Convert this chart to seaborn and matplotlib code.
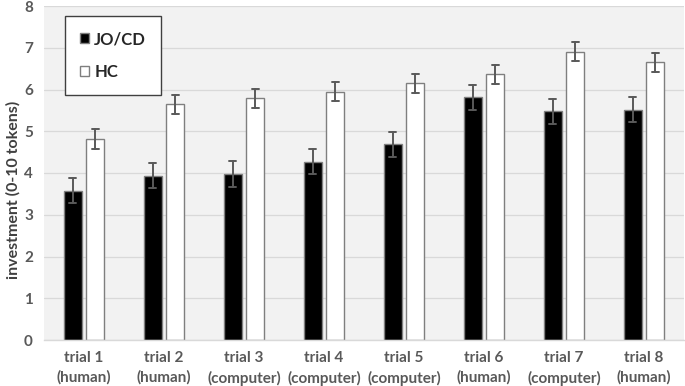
import numpy as np
import pandas as pd
import matplotlib
matplotlib.use("Agg")
import matplotlib.pyplot as plt
import seaborn as sns

trials = ["trial 1\n(human)", "trial 2\n(human)", "trial 3\n(computer)", "trial 4\n(computer)",
          "trial 5\n(computer)", "trial 6\n(human)", "trial 7\n(computer)", "trial 8\n(human)"]
groups = ["JO/CD", "HC"]
jo_mean = [3.57, 3.94, 3.98, 4.27, 4.69, 5.81, 5.48, 5.52]
jo_se = [0.30, 0.31, 0.31, 0.30, 0.30, 0.30, 0.30, 0.30]
hc_mean = [4.81, 5.65, 5.79, 5.95, 6.15, 6.36, 6.91, 6.65]
hc_se = [0.24, 0.23, 0.23, 0.23, 0.23, 0.23, 0.23, 0.23]
y_ticks = [0, 1, 2, 3, 4, 5, 6, 7, 8]

rows = []
for g, means, ses in [("JO/CD", jo_mean, jo_se), ("HC", hc_mean, hc_se)]:
    for t, m, s in zip(trials, means, ses):
        rows.append({"trial": t, "group": g, "value": m - s})
        rows.append({"trial": t, "group": g, "value": m + s})
df = pd.DataFrame(rows)

sns.set_style("white")
plt.rcParams["font.family"] = ["Lato", "DejaVu Sans"]

fig = plt.figure(figsize=(6.85, 3.86), dpi=100)
ax = fig.add_axes([44 / 685, 46 / 386, 640 / 685, 334 / 386])
ax.set_facecolor("#f2f2f2")

sns.barplot(data=df, x="trial", y="value", hue="group", hue_order=groups, order=trials,
            palette={"JO/CD": "black", "HC": "white"}, estimator="mean",
            errorbar=lambda v: (v.min(), v.max()), capsize=0.18,
            err_kws={"color": "#595959", "linewidth": 1.4},
            width=0.566, gap=0.205, edgecolor="#7f7f7f", linewidth=1.0, ax=ax)

ax.set_ylim(0, 8)
ax.set_xlim(-0.5, 7.5)
ax.set_yticks(y_ticks)
ax.yaxis.grid(True, color="#d9d9d9", linewidth=0.9)
ax.set_axisbelow(True)
for s in ["left", "right", "top"]:
    ax.spines[s].set_visible(False)
ax.spines["bottom"].set_color("#d9d9d9")
ax.spines["bottom"].set_linewidth(1.0)

ax.tick_params(axis="both", length=0, labelsize=11, labelcolor="#595959")
ax.tick_params(axis="y", pad=8)
ax.tick_params(axis="x", pad=8)
for lab in ax.get_xticklabels() + ax.get_yticklabels():
    lab.set_fontweight("bold")
for lab in ax.get_xticklabels():
    lab.set_linespacing(1.45)

ax.set_xlabel("")
ax.set_ylabel("investment (0-10 tokens)", fontsize=11.5, fontweight="bold", color="#404040")
ax.yaxis.set_label_coords(-0.036, 0.449)

handles, labels = ax.get_legend_handles_labels()
leg = ax.legend(handles, labels, loc="upper left", bbox_to_anchor=(0.0328, 0.970),
                borderaxespad=0, fancybox=False, framealpha=1, edgecolor="#404040",
                prop={"family": ["Lato", "DejaVu Sans"], "weight": "bold", "size": 12},
                handlelength=0.55, handleheight=0.55, handletextpad=0.3,
                labelspacing=1.0, borderpad=0.9)
leg.get_frame().set_linewidth(1.0)
for txt in leg.get_texts():
    txt.set_color("#262626")

fig.savefig("out.png", dpi=100)
